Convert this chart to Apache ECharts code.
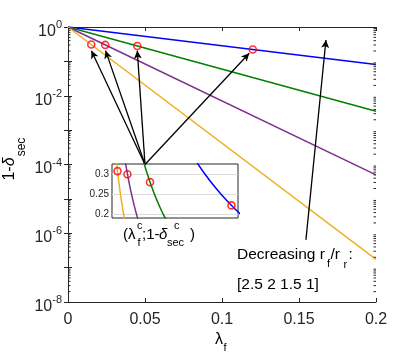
<!DOCTYPE html>
<html><head><meta charset="utf-8">
<script src="https://cdn.jsdelivr.net/npm/echarts@6/dist/echarts.min.js"></script>
<style>html,body{margin:0;padding:0;background:#fff}#c{width:415px;height:361px}</style>
</head><body><div id="c"></div>
<script>
// ---- data ----
const ratioLabels = ['2.5', '2', '1.5', '1'];
const lineColors = ['#0000ff', '#008000', '#7e2f8e', '#edb120'];
const lambdaEnds = [0, 0.2];
const blueMain = [1, 0.0813];
const greenMain = [1, 0.00355];
const purpleMain = [1, 5.0e-5];
const yellowMain = [1, 1.74e-7];
// critical points (lambda_f^c ; 1-delta_sec^c)
const lambdaC = [0.12, 0.045, 0.0242, 0.0151];
const deltaC = [0.222, 0.281, 0.301, 0.309];
// inset (linear zoom) curves
const blueInsetX = [0.085, 0.095, 0.105, 0.115, 0.125, 0.13];
const blueInsetY = [0.3441, 0.3036, 0.2678, 0.2361, 0.2083, 0.1956];
const greenInsetX = [0.038, 0.042, 0.046, 0.050, 0.054, 0.058, 0.062];
const greenInsetY = [0.3424, 0.3059, 0.2733, 0.2441, 0.2181, 0.1948, 0.1740];
const purpleInsetX = [0.021, 0.024, 0.027, 0.030, 0.033, 0.036];
const purpleInsetY = [0.3536, 0.3048, 0.2627, 0.2265, 0.1952, 0.1683];
const yellowInsetX = [0.013, 0.015, 0.017, 0.019, 0.021, 0.023];
const yellowInsetY = [0.3635, 0.3112, 0.2663, 0.2279, 0.1951, 0.1670];
const yLabelExps = [0, -2, -4, -6, -8];
// annotation arrows (data coordinates)
const arrowFrom = [0.05, 1e-4];
const arrowToX = [0.0152, 0.0244, 0.045, 0.1177];
const arrowToY = [0.205, 0.205, 0.205, 0.172];
const trendFrom = [0.1545, 6.4e-7];
const trendTo = [0.1675, 0.42];

const FONT = '"Liberation Sans", Arial, Helvetica, sans-serif';
const AX = '#262626';
const zip = (a, b) => a.map((v, i) => [v, b[i]]);

const chart = echarts.init(document.getElementById('c'), null, {renderer: 'canvas'});

const mainSeries = [blueMain, greenMain, purpleMain, yellowMain].map((ys, i) => ({
  type: 'line', xAxisIndex: 0, yAxisIndex: 0, data: zip(lambdaEnds, ys),
  showSymbol: false, symbol: 'none', lineStyle: {color: lineColors[i], width: 1.5},
  itemStyle: {color: lineColors[i]}, silent: true, animation: false, z: 2
}));
const insetSeries = [[blueInsetX, blueInsetY], [greenInsetX, greenInsetY], [purpleInsetX, purpleInsetY], [yellowInsetX, yellowInsetY]].map((p, i) => ({
  type: 'line', xAxisIndex: 2, yAxisIndex: 2, data: zip(p[0], p[1]), smooth: true,
  showSymbol: false, symbol: 'none', lineStyle: {color: lineColors[i], width: 1.5},
  silent: true, animation: false, clip: true, z: 5
}));
const arrowData = arrowToX.map((x, i) => [{coord: arrowFrom}, {coord: [x, arrowToY[i]]}]);
arrowData.push([{coord: trendFrom}, {coord: trendTo}]);

const markerStyle = {color: 'rgba(0,0,0,0)', borderColor: '#ff0000', borderWidth: 1.6};

const axisCommon = {
  axisLine: {show: true, lineStyle: {color: AX, width: 1}},
  axisTick: {show: true, inside: true, length: 4, lineStyle: {color: AX}},
  splitLine: {show: false}
};

const option = {
  backgroundColor: '#fff',
  animation: false,
  grid: [
    {left: 68, top: 27, width: 308, height: 275, show: false},
    {left: 112, top: 164, width: 126, height: 54, show: true, backgroundColor: '#fff', borderColor: AX, borderWidth: 1}
  ],
  xAxis: [
    Object.assign({type: 'value', gridIndex: 0, position: 'bottom', min: 0, max: 0.2, interval: 0.05,
      axisLabel: {fontSize: 16, color: AX, fontFamily: FONT, margin: 10}}, axisCommon),
    Object.assign({type: 'value', gridIndex: 0, position: 'top', min: 0, max: 0.2, interval: 0.05,
      axisLabel: {show: false}}, axisCommon),
    {type: 'value', gridIndex: 1, min: 0.01, max: 0.126, axisLine: {show: false}, axisTick: {show: false},
      axisLabel: {show: false}, splitLine: {show: false}}
  ],
  yAxis: [
    Object.assign({type: 'log', gridIndex: 0, position: 'left', logBase: 10, min: 1e-8, max: 1, splitNumber: 8,
      axisLabel: {
        margin: 6, color: AX, fontFamily: FONT, padding: [5, 0, 0, 0],
        formatter: v => {
          const e = Math.round(Math.log10(v));
          if (yLabelExps.indexOf(e) < 0) return '';
          return '{b|10}{s|' + e + '}';
        },
        rich: {
          b: {fontSize: 16, lineHeight: 20, verticalAlign: 'bottom', color: AX, fontFamily: FONT},
          s: {fontSize: 11, lineHeight: 11, verticalAlign: 'top', color: AX, fontFamily: FONT}
        }
      }}, axisCommon),
    Object.assign({type: 'log', gridIndex: 0, position: 'right', logBase: 10, min: 1e-8, max: 1, splitNumber: 8,
      axisLabel: {show: false}}, axisCommon),
    {type: 'value', gridIndex: 1, min: 0.19, max: 0.327, splitNumber: 3,
      axisLine: {show: false}, axisTick: {show: false},
      axisLabel: {fontSize: 10, color: AX, fontFamily: FONT, margin: 3, showMinLabel: false, showMaxLabel: false},
      splitLine: {show: true, showMinLine: false, showMaxLine: false, lineStyle: {color: '#dcdcdc', width: 1}}}
  ],
  series: mainSeries.concat([
    {type: 'scatter', xAxisIndex: 0, yAxisIndex: 0, data: zip(lambdaC, deltaC), symbol: 'circle', symbolSize: 7,
      itemStyle: markerStyle, silent: true, z: 4,
      markLine: {silent: true, symbol: ['none', 'arrow'], symbolSize: [6, 8], animation: false,
        label: {show: false}, lineStyle: {color: '#000', width: 1.3, type: 'solid'}, emphasis: {disabled: true},
        data: arrowData}}
  ]).concat(insetSeries).concat([
    {type: 'scatter', xAxisIndex: 2, yAxisIndex: 2, data: zip(lambdaC, deltaC), symbol: 'circle', symbolSize: 7,
      itemStyle: markerStyle, silent: true, z: 6}
  ])
};
chart.setOption(option);

// decorations: minor log ticks, titles, annotations
const g = [];
const xL = chart.convertToPixel({xAxisIndex: 0}, 0);
const xR = chart.convertToPixel({xAxisIndex: 0}, 0.2);
for (let e = -8; e < 0; e++) {
  for (let m = 2; m <= 9; m++) {
    const py = chart.convertToPixel({yAxisIndex: 0}, m * Math.pow(10, e));
    g.push({type: 'line', silent: true, z: 10, shape: {x1: xL, y1: py, x2: xL + 2.5, y2: py}, style: {stroke: AX, lineWidth: 1}});
    g.push({type: 'line', silent: true, z: 10, shape: {x1: xR - 2.5, y1: py, x2: xR, y2: py}, style: {stroke: AX, lineWidth: 1}});
  }
}
const txt = (x, y, text, size, extra, rot) => ({
  type: 'text', x: x, y: y, rotation: rot || 0, silent: true, z: 20,
  style: Object.assign({text: text, fontSize: size, fontFamily: FONT, fill: '#000', align: 'left', verticalAlign: 'middle'}, extra || {})
});
// y title (rotated)
g.push(txt(10, 169, '1-{d|δ}', 16, {align: 'center', rich: {d: {fontSize: 16, fontStyle: 'italic', fontFamily: FONT}}}, Math.PI / 2));
g.push(txt(21.5, 147, 'sec', 12, {align: 'center'}, Math.PI / 2));
// x title
g.push(txt(219, 340, 'λ', 16, {align: 'center'}));
g.push(txt(225, 348, 'f', 11, {align: 'center'}));
// inset label (λ_f^c;1-δ_sec^c)
g.push(txt(123, 235, '(λ', 15));
g.push(txt(137, 226, 'c', 11));
g.push(txt(137.5, 243, 'f', 11));
g.push(txt(142, 235, ';1-', 15));
g.push(txt(159, 235, 'δ', 15, {fontStyle: 'italic'}));
g.push(txt(174, 226, 'c', 11));
g.push(txt(167, 243, 'sec', 11));
g.push(txt(190, 235, ')', 15));
// decreasing label
g.push(txt(237, 255, 'Decreasing r', 15.5));
g.push(txt(327, 264, 'f', 11));
g.push(txt(330.5, 255, '/r', 15.5));
g.push(txt(343.5, 265, 'r', 11));
g.push(txt(348.5, 255, ':', 15.5));
g.push(txt(237, 285, '[' + ratioLabels.join(' ') + ']', 15.5));

chart.setOption({graphic: {elements: g}});
</script>
</body></html>
